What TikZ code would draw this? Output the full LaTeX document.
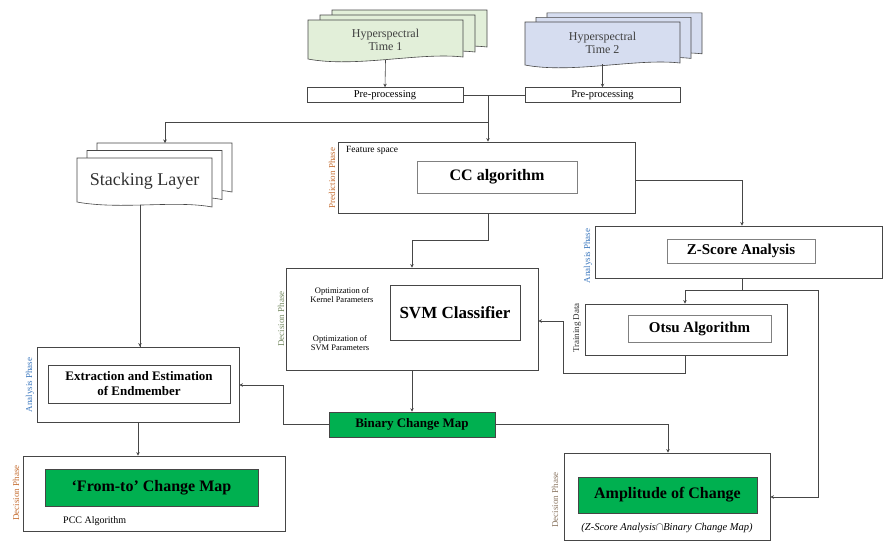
\documentclass[tikz,border=0pt]{standalone}
\usepackage{fontspec}
\setmainfont{Liberation Serif}
\usetikzlibrary{arrows.meta}
\definecolor{gfill}{RGB}{226,239,217}
\definecolor{bfill}{RGB}{214,221,240}
\definecolor{mapgreen}{RGB}{0,176,80}
\definecolor{linec}{RGB}{70,70,70}
\definecolor{phorange}{RGB}{197,110,50}
\definecolor{phblue}{RGB}{60,120,190}
\definecolor{phgreen}{RGB}{120,140,100}
\definecolor{phgray}{RGB}{140,120,100}
\tikzset{
  outerbox/.style={draw=linec, line width=0.8pt, rectangle, inner sep=0pt},
  innerbox/.style={draw=gray, line width=1pt, rectangle, inner sep=0pt, font=\bfseries, align=center},
  mapbox/.style={draw=linec, line width=0.6pt, fill=mapgreen, rectangle, inner sep=0pt, font=\bfseries, align=center},
  prebox/.style={draw=linec, line width=0.6pt, rectangle, inner sep=0pt, font=\fontsize{10.5}{11}\selectfont},
  conn/.style={draw=linec, line width=0.6pt},
  arr/.style={conn, -{Stealth[length=3.5pt,width=3.5pt]}},
  phase/.style={rotate=90, font=\fontsize{9}{10}\selectfont, inner sep=0pt},
  page/.style={draw=linec, line width=0.6pt},
  small/.style={font=\fontsize{8.5}{9.5}\selectfont, align=center, inner sep=0pt}
}
\begin{document}
\begin{tikzpicture}[x=1pt,y=-1pt]
\useasboundingbox (0,0) rectangle (884,542);
% ---------- Hyperspectral Time 1 (multi-document) ----------
\foreach \d in {24,12,0}{
  \path[page, fill=gfill] (308+\d,20-\d/2.4) -- (463+\d,20-\d/2.4) -- (463+\d,57-\d/2.4)
    .. controls (420+\d,52-\d/2.4) and (355+\d,68-\d/2.4) .. (308+\d,59-\d/2.4) -- cycle;
}
\node[inner sep=0pt, minimum width=155pt, minimum height=40pt, align=center, font=\fontsize{12}{13}\selectfont, text=black!75] (hs1) at (385.5,40) {Hyperspectral\\Time 1};
% ---------- Hyperspectral Time 2 ----------
\foreach \d in {22,11,0}{
  \path[page, fill=bfill] (525+\d,22-\d/2.4) -- (680+\d,22-\d/2.4) -- (680+\d,63-\d/2.4)
    .. controls (637+\d,58-\d/2.4) and (572+\d,74-\d/2.4) .. (525+\d,65-\d/2.4) -- cycle;
}
\node[inner sep=0pt, minimum width=155pt, minimum height=42pt, align=center, font=\fontsize{12}{13}\selectfont, text=black!75] (hs2) at (602.5,43) {Hyperspectral\\Time 2};
% ---------- Pre-processing ----------
\node[prebox, minimum width=156pt, minimum height=15pt] (pre1) at (385,95) {Pre-processing};
\node[prebox, minimum width=155pt, minimum height=15pt] (pre2) at (602.5,95) {Pre-processing};
% ---------- Stacking layer ----------
\foreach \d in {20,10,0}{
  \path[page, fill=white] (77+\d,158-\d*0.75) -- (212+\d,158-\d*0.75) -- (212+\d,207-\d*0.75)
    .. controls (175+\d,200-\d*0.75) and (120+\d,210-\d*0.75) .. (77+\d,202-\d*0.75) -- cycle;
}
\node[inner sep=0pt, minimum width=135pt, minimum height=47pt, font=\fontsize{18}{19}\selectfont, text=black!80] (stack) at (144.5,181) {Stacking Layer};
\coordinate (stacktop) at (165,143);
% ---------- Feature space / CC ----------
\node[outerbox, minimum width=297pt, minimum height=71pt] (feat) at (486.5,177.5) {};
\node[font=\fontsize{9.5}{10}\selectfont, anchor=north west, inner sep=0pt] (featlbl) at (346,146) {Feature space};
\node[innerbox, minimum width=160pt, minimum height=32pt, font=\fontsize{16}{17}\selectfont\bfseries] (cc) at (497,177) {CC algorithm};
\node[phase, text=phorange] (ph1) at (332,178) {Prediction Phase};
% ---------- Z-score ----------
\node[outerbox, minimum width=287pt, minimum height=52pt] (zbox) at (738.5,252) {};
\node[innerbox, minimum width=148pt, minimum height=24pt, font=\fontsize{15}{16}\selectfont\bfseries] (zin) at (741,251) {Z-Score Analysis};
\node[phase, text=phblue] (ph2) at (588,256) {Analysis Phase};
% ---------- Otsu ----------
\node[outerbox, minimum width=202pt, minimum height=51pt] (otsu) at (686,329.5) {};
\node[innerbox, minimum width=143pt, minimum height=27pt, font=\fontsize{15}{16}\selectfont\bfseries] (otsuin) at (699.5,328.5) {Otsu Algorithm};
\node[phase, text=black!80] (train) at (577,328) {Training Data};
% ---------- SVM ----------
\node[outerbox, minimum width=252pt, minimum height=102pt] (svm) at (412,319) {};
\node[innerbox, draw=linec, line width=0.8pt, minimum width=130pt, minimum height=55pt, font=\fontsize{17}{18}\selectfont\bfseries] (svmin) at (455,312.5) {SVM Classifier};
\node[small] (opt1) at (342,295) {Optimization of\\Kernel Parameters};
\node[small] (opt2) at (340,343) {Optimization of\\SVM Parameters};
\node[phase, text=phgreen] (ph3) at (281,319) {Decision Phase};
% ---------- Binary change map ----------
\node[mapbox, minimum width=166pt, minimum height=25pt, font=\fontsize{13}{14}\selectfont\bfseries] (bin) at (412,424.5) {Binary Change Map};
% ---------- Extraction ----------
\node[outerbox, minimum width=202pt, minimum height=75pt] (ext) at (138,384.5) {};
\node[innerbox, draw=linec, line width=0.8pt, minimum width=182pt, minimum height=38pt, font=\fontsize{13}{15}\selectfont\bfseries] (extin) at (139,384) {Extraction and Estimation\\of Endmember};
\node[phase, text=phblue] (ph4) at (30,385) {Analysis Phase};
% ---------- From-to ----------
\node[outerbox, minimum width=262pt, minimum height=75pt] (ft) at (154,493.5) {};
\node[mapbox, minimum width=213pt, minimum height=37pt, font=\fontsize{16}{17}\selectfont\bfseries] (ftin) at (151.5,487.5) {`From-to' Change Map};
\node[font=\fontsize{10}{11}\selectfont, inner sep=0pt, anchor=west] (pcc) at (63,521) {PCC Algorithm};
\node[phase, text=phorange] (ph5) at (16,493) {Decision Phase};
% ---------- Amplitude ----------
\node[outerbox, minimum width=206pt, minimum height=87pt] (amp) at (667,496.5) {};
\node[mapbox, minimum width=179pt, minimum height=36pt, font=\fontsize{16}{17}\selectfont\bfseries] (ampin) at (667.5,495) {Amplitude of Change};
\node[font=\fontsize{10.5}{11}\selectfont\itshape, inner sep=0pt] (ampsub) at (667,528) {(Z-Score Analysis$\cap$Binary Change Map)};
\node[phase, text=phgray] (ph6) at (555,500) {Decision Phase};
% ---------- Connectors ----------
\draw[arr] (hs1.south) -- (pre1.north);
\draw[arr] (hs2.south -| pre2.north) -- (pre2.north);
\draw[conn] (pre1.east) -- (pre2.west);
\coordinate (j1) at (488,95);
\coordinate (j2) at (488,122);
\draw[arr] (j1) -- (j1 |- feat.north);
\draw[arr] (j2) -| (stacktop);
\draw[conn] (stack.south -| 140,0) -- (140,347);
\draw[arr] (140,300) -- (ext.north -| 140,0);
\coordinate (f1) at (742,180);
\draw[arr] (feat.east |- f1) -| (zbox.north -| f1);
\coordinate (f2) at (488,240);
\draw[arr] (feat.south -| f2) -- (f2) -| (svm.north);
\coordinate (z1) at (742,290);
\coordinate (z2) at (685,290);
\draw[arr] (zbox.south -| z1) -- (z1) -- (z2) -- (otsu.north -| z2);
\coordinate (z3) at (818,290);
\coordinate (z4) at (818,497);
\draw[arr] (z1) -- (z3) -- (z4) -- (amp.east |- z4);
\coordinate (o1) at (685,373);
\coordinate (o2) at (563,373);
\coordinate (o3) at (563,321);
\draw[arr] (otsu.south -| o1) -- (o1) -- (o2) -- (o3) -- (svm.east |- o3);
\draw[arr] (svm.south) -- (bin.north);
\coordinate (b1) at (283,424.5);
\coordinate (b2) at (283,385);
\draw[arr] (bin.west) -- (b1) -- (b2) -- (ext.east |- b2);
\coordinate (b3) at (668,424.5);
\draw[arr] (bin.east) -- (b3) -- (amp.north -| b3);
\draw[arr] (ext.south) -- (ft.north -| ext.south);
\end{tikzpicture}
\end{document}
